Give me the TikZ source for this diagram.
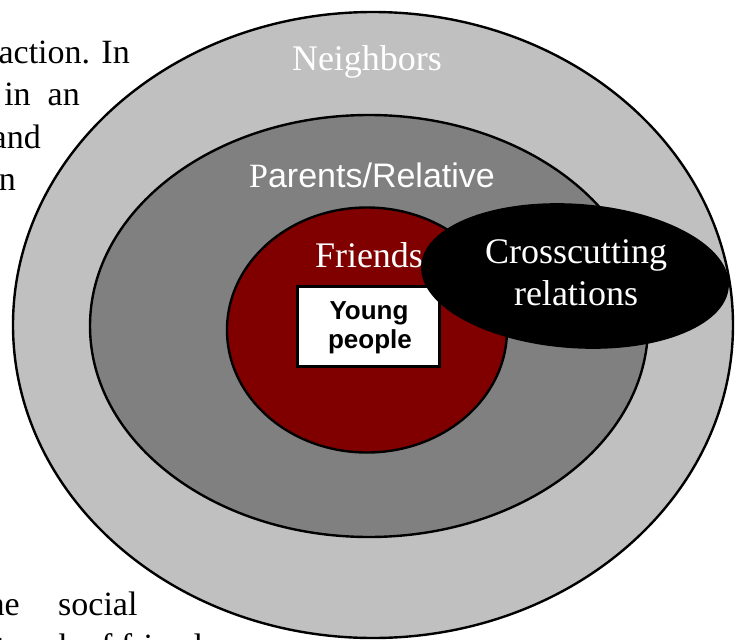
\documentclass[tikz,border=0pt]{standalone}
\usepackage{fontspec}
\setmainfont{Liberation Serif}
\newfontfamily\arialfont{Liberation Sans}
\usetikzlibrary{shapes.geometric}
\definecolor{neighcol}{HTML}{C0C0C0}
\definecolor{parcol}{HTML}{808080}
\definecolor{friendcol}{HTML}{800000}
\tikzset{
  ring/.style={ellipse, draw=black, line width=2.4pt, inner sep=0pt, outer sep=0pt},
  bgtext/.style={inner sep=0pt, font=\fontsize{34}{40}\selectfont, text=black},
  serlabel/.style={inner sep=0pt, font=\fontsize{36}{42}\selectfont, text=white, anchor=base},
  boxtext/.style={inner sep=0pt, anchor=base, text=black, font=\arialfont\bfseries\fontsize{26}{29}\selectfont},
}
\begin{document}
\begin{tikzpicture}[x=1pt,y=-1pt]
\useasboundingbox (0,0) rectangle (740,640);
\clip (0,0) rectangle (740,640);
\fill[white] (0,0) rectangle (740,640);
% background page text
\node[bgtext, anchor=base east] (t1) at (130,63) {action. In};
\node[bgtext, anchor=base east] (t2) at (80,105) {in\ \ an};
\node[bgtext, anchor=base east] (t3) at (41,148) {and};
\node[bgtext, anchor=base east] (t4) at (16,190) {n};
\node[bgtext, anchor=base east] (t5) at (20,615) {he};
\node[bgtext, anchor=base west] (t6) at (58,615) {social};
\node[bgtext, anchor=base west] (t7) at (-36,657) {network of friends};
% circles
\node[ring, fill=neighcol, minimum width=720pt, minimum height=626pt] (neigh) at (373,325) {};
\node[ring, fill=parcol, minimum width=558pt, minimum height=422pt] (par) at (369,326) {};
\node[ring, fill=friendcol, minimum width=280pt, minimum height=245pt] (friends) at (367,330) {};
% labels
\node[serlabel] (lneigh) at (367,70) {Neighbors};
\node[inner sep=0pt, anchor=base, text=white, font=\arialfont\fontsize{34}{40}\selectfont] (lpar) at (372,187) {{\rmfamily P}arents/Relative};
\node[serlabel] (lfriends) at (369,267) {Friends};
% young people box
\node[draw=black, line width=2.4pt, fill=white, minimum width=142pt, minimum height=80pt, inner sep=0pt] (young) at (368.5,326.5) {};
\node[boxtext] (ly1) at (369,319) {Young};
\node[boxtext] (ly2) at (370,348) {people};
% crosscutting
\node[ring, fill=black, minimum width=306pt, minimum height=142pt, rotate=-4] (cross) at (575,276) {};
\node[serlabel] (lcross1) at (576,263) {Crosscutting};
\node[serlabel] (lcross2) at (576,305) {relations};
\end{tikzpicture}
\end{document}
